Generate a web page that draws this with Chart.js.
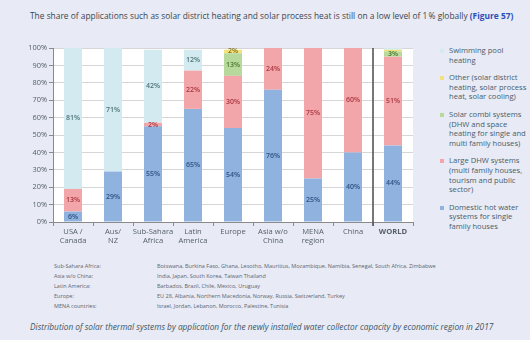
<!DOCTYPE html>
<html>
<head>
<meta charset="utf-8">
<script src="https://cdn.jsdelivr.net/npm/chart.js@4/dist/chart.umd.min.js"></script>
<style>
  body { margin:0; width:530px; height:340px; background:#e8eaf5; font-family:"Open Sans", sans-serif; position:relative; overflow:hidden; }
  #title { position:absolute; left:30px; top:10px; font-size:8.4px; color:#3a4650; white-space:nowrap; }
  #title b { color:#2a50b8; }
  #wrap { position:absolute; left:0; top:36px; }
  #legend { position:absolute; left:438px; top:46px; width:92px; font-size:7.6px; line-height:9.6px; color:#45606c; }
  .li { position:relative; padding-left:11px; margin-bottom:8px; }
  .li span.m { position:absolute; left:2px; top:3px; width:4px; height:4px; }
  #notes { position:absolute; left:54px; top:261px; font-size:5.5px; line-height:10px; color:#5c6670; }
  #notes .k { display:inline-block; width:103px; }
  #caption { position:absolute; left:30px; top:321px; font-size:8.3px; font-style:italic; color:#3c5664; white-space:nowrap; }
</style>
</head>
<body>
<div id="title">The share of applications such as solar district heating and solar process heat is still on a low level of 1&#8201;% globally <b>(Figure 57)</b></div>
<div id="wrap"><canvas id="canvas" width="420" height="220"></canvas></div>
<div id="legend"></div>
<div id="notes"></div>
<div id="caption">Distribution of solar thermal systems by application for the newly installed water collector capacity by economic region in 2017</div>
<script>
// regions on the x axis
var REGIONS = [['USA /','Canada'], ['Aus/','NZ'], ['Sub-Sahara','Africa'], ['Latin','America'], 'Europe', ['Asia w/o','China'], ['MENA','region'], 'China', 'WORLD'];

// shares in % (bottom to top of the stack)
var DHW_SMALL = [6, 29, 55, 65, 54, 76, 25, 40, 44];
var DHW_LARGE = [13, 0, 2, 22, 30, 24, 75, 60, 51];
var COMBI     = [0, 0, 0, 0, 13, 0, 0, 0, 3];
var OTHER     = [0, 0, 0, 0, 2, 0, 0, 0, 1];
var POOL      = [81, 71, 42, 12, 0, 0, 0, 0, 1];

var Y_TICKS = [0,10,20,30,40,50,60,70,80,90,100];

var NAME_DHW_SMALL = ['Domestic hot water', 'systems for single', 'family houses'];
var NAME_DHW_LARGE = ['Large DHW systems', '(multi family houses,', 'tourism and public', 'sector)'];
var NAME_COMBI = ['Solar combi systems', '(DHW and space', 'heating for single and', 'multi family houses)'];
var NAME_OTHER = ['Other (solar district', 'heating, solar process', 'heat, solar cooling)'];
var NAME_POOL = ['Swimming pool', 'heating'];

var NOTE_KEYS = ['Sub-Sahara Africa:', 'Asia w/o China:', 'Latin America:', 'Europe:', 'MENA countries:'];
var NOTE_VALS = [
    'Botswana, Burkina Faso, Ghana, Lesotho, Mauritius, Mozambique, Namibia, Senegal, South Africa, Zimbabwe',
    'India, Japan, South Korea, Taiwan Thailand',
    'Barbados, Brazil, Chile, Mexico, Uruguay',
    'EU 28, Albania, Northern Macedonia, Norway, Russia, Switzerland, Turkey',
    'Israel, Jordan, Lebanon, Morocco, Palestine, Tunisia'
];

function ds(name, data, color, txt){
    return {label: name, data: data, backgroundColor: color, txtColor: txt,
            barPercentage: 0.45, categoryPercentage: 1.0, borderWidth: 0};
}

var config = {
    type: 'bar',
    data: {
        labels: REGIONS,
        datasets: [
            ds(NAME_DHW_SMALL, DHW_SMALL, '#8fb3de', '#2d5182'),
            ds(NAME_DHW_LARGE, DHW_LARGE, '#f3a6aa', '#a8373f'),
            ds(NAME_COMBI, COMBI, '#b7d99c', '#4d7a2c'),
            ds(NAME_OTHER, OTHER, '#f3e27c', '#7d6d12'),
            ds(NAME_POOL, POOL, '#d3eaf0', '#4e7479')
        ]
    },
    options: {
        responsive: false,
        animation: false,
        layout: {padding: {left: 0, top: 12, right: 7, bottom: 0}},
        plugins: {legend: {display: false}, tooltip: {enabled: false}},
        scales: {
            x: {
                stacked: true,
                grid: {drawOnChartArea: false, tickLength: 4, color: '#8a8a8a'},
                border: {color: '#8a8a8a'},
                ticks: {
                    maxRotation: 0, autoSkip: false, color: '#55606a', padding: 1,
                    font: function(c){ return {family: 'Open Sans', size: 7.6, weight: c.index == 8 ? 'bold' : 'normal'}; }
                },
                afterFit: function(s){ s.height = 34; }
            },
            y: {
                stacked: true, min: 0, max: 100,
                afterBuildTicks: function(s){ s.ticks = Y_TICKS.map(function(v){ return {value: v}; }); },
                grid: {color: '#d6d6d6', tickLength: 4, tickColor: '#8a8a8a'},
                border: {color: '#8a8a8a'},
                ticks: {color: '#55606a', padding: 2, font: {family: 'Open Sans', size: 7.4},
                        callback: function(v){ return v + '%'; }},
                afterFit: function(s){ s.width = 53; }
            }
        }
    },
    plugins: [{
        id: 'whiteArea',
        beforeDraw: function(chart){
            var a = chart.chartArea, c = chart.ctx;
            c.save();
            c.fillStyle = '#ffffff';
            c.fillRect(a.left, a.top, a.right - a.left, a.bottom - a.top);
            c.restore();
        }
    }, {
        id: 'segLabels',
        afterDatasetsDraw: function(chart){
            var c = chart.ctx;
            c.save();
            c.font = '600 7px "Open Sans"';
            c.textAlign = 'center';
            c.textBaseline = 'middle';
            chart.data.datasets.forEach(function(d, i){
                var meta = chart.getDatasetMeta(i);
                meta.data.forEach(function(bar, j){
                    var v = d.data[j];
                    if (v < 2) return;
                    c.fillStyle = d.txtColor;
                    c.fillText(v + '%', bar.x, (bar.y + bar.base) / 2);
                });
            });
            c.restore();
        }
    }, {
        id: 'worldSep',
        afterDraw: function(chart){
            var x = chart.scales.x;
            var px = (x.getPixelForValue(7) + x.getPixelForValue(8)) / 2;
            var c = chart.ctx;
            c.save();
            c.strokeStyle = '#555';
            c.lineWidth = 1.6;
            c.beginPath();
            c.moveTo(px, chart.chartArea.top);
            c.lineTo(px, chart.chartArea.bottom + 4);
            c.stroke();
            c.restore();
        }
    }]
};

var ctx = document.getElementById('canvas').getContext('2d');
var chart = new Chart(ctx, config);

// legend, top to bottom = reverse of the stack
var lg = document.getElementById('legend');
chart.data.datasets.slice().reverse().forEach(function(d){
    var div = document.createElement('div');
    div.className = 'li';
    div.innerHTML = '<span class="m" style="background:' + d.backgroundColor + '"></span>' + d.label.join('<br>');
    lg.appendChild(div);
});

var notes = document.getElementById('notes');
for (var i = 0; i < NOTE_KEYS.length; i++) {
    var r = document.createElement('div');
    r.innerHTML = '<span class="k">' + NOTE_KEYS[i] + '</span>' + NOTE_VALS[i];
    notes.appendChild(r);
}
</script>
</body>
</html>
